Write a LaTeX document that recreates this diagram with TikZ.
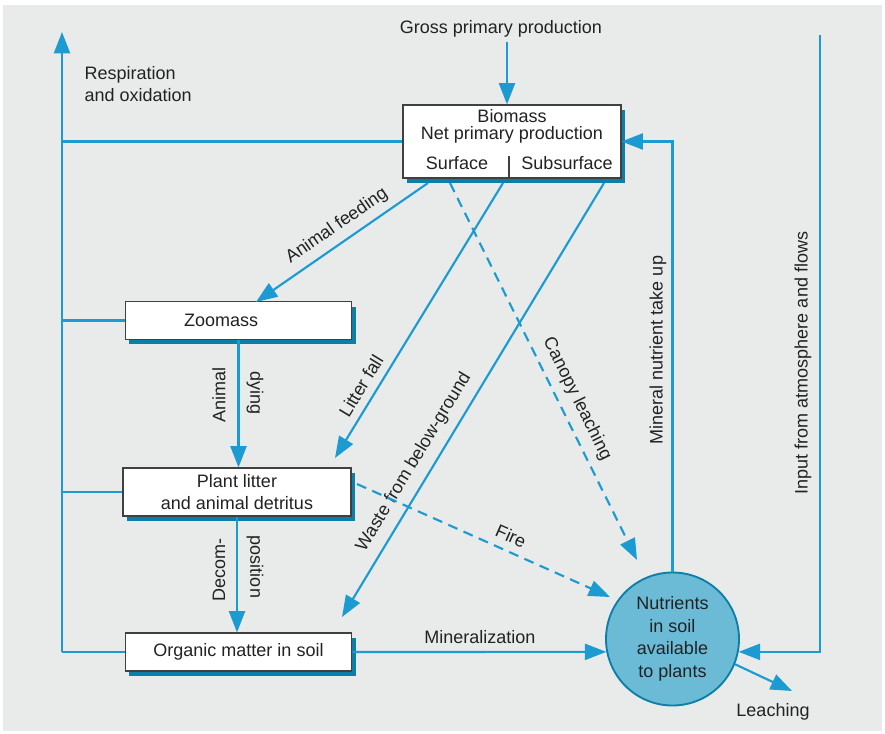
\documentclass[tikz,border=0pt]{standalone}
\usepackage{fontspec}
\setmainfont{Liberation Sans}
\usetikzlibrary{arrows.meta,shadows}
\definecolor{flowblue}{HTML}{1B9BD1}
\definecolor{shadeblue}{HTML}{0B7FA8}
\definecolor{bggray}{HTML}{E9EBEB}
\definecolor{poolblue}{HTML}{6BBBD7}
\definecolor{inkgray}{HTML}{222222}
\begin{document}
\begin{tikzpicture}[x=0.75pt,y=-0.75pt,
    font=\fontsize{13.5}{16.5}\selectfont, text=inkgray,
    >={Triangle[length=16pt,width=12pt]},
    pool/.style={draw=black!75, line width=0.8pt, fill=white, inner sep=2pt,
      drop shadow={shadow xshift=3pt, shadow yshift=-3.5pt, fill=shadeblue, opacity=1}},
    flow/.style={flowblue, line width=1.6pt},
    dflow/.style={flow, dash pattern=on 7.5pt off 5pt}]
    \useasboundingbox (0,0) rectangle (885,734);%
    \fill[bggray] (3,5) rectangle (882,731);%

    \node[pool, minimum width=163.5pt, minimum height=54.75pt] (bio) at (512,141.5) {};%
    \node[anchor=base, inner sep=1pt] (bioname) at (512,123) {Biomass};%
    \node[anchor=base, inner sep=1pt] (npp) at (512,140) {Net primary production};%
    \node[anchor=base] (surf) at (457,170) {Surface};%
    \node[anchor=base] (subsurf) at (567,170) {Subsurface};%
    \coordinate (divtop) at (509,156);%
    \draw[black!75, line width=0.8pt] (divtop) -- (divtop |- bio.south);%

    \node[pool, minimum width=170pt, minimum height=28pt] (zoo) at (238.5,320.5) {Zoomass\hspace*{26pt}};%
    \node[pool, minimum width=171pt, minimum height=36pt, align=center] (litter) at (237,492) {Plant litter\\and animal detritus};%
    \node[pool, minimum width=170pt, minimum height=28.5pt] (som) at (238.5,652) {Organic matter in soil};%
    \node[circle, draw=shadeblue, line width=1.4pt, fill=poolblue, minimum size=99.75pt,
      inner sep=0pt, align=center, font=\fontsize{13.5}{17}\selectfont] (nut) at (672.5,639) {Nutrients\\in soil\\available\\to plants};%

    \coordinate (resptop) at (62,32);%
    \coordinate (respfoot) at (62,652);%
    \draw[flow,->] (respfoot) -- (resptop);%
    \draw[flow] (bio.west) -- (bio.west -| resptop);%
    \draw[flow] (zoo.west) -- (zoo.west -| resptop);%
    \draw[flow] (litter.west) -- (litter.west -| resptop);%
    \draw[flow] (som.west) -- (som.west -| resptop);%
    \node[align=left, anchor=west] (resptext) at (80,84) {Respiration\\and oxidation};%

    \node (gpp) at (501,29) {Gross primary production};%
    \coordinate (gppfoot) at (507,42);%
    \draw[flow,->] (gppfoot) -- (gppfoot |- bio.north);%

    \coordinate (inputtop) at (820,35);%
    \draw[flow,->] (inputtop) |- (nut.-11);%
    \node[rotate=90] (inputtext) at (803,363) {Input from atmosphere and flows};%
    \draw[flow,->] (nut.north) |- (bio.east);%
    \node[rotate=90] (uptake) at (658,350) {Mineral nutrient take up};%

    \coordinate (leachend) at (792,691);%
    \draw[flow,->] (nut.-22) -- (leachend);%
    \node (leachtext) at (773,712) {Leaching};%
    \draw[flow,->] (som.east) -- (nut.191);%
    \node (mintext) at (480,637) {Mineralization};%

    \draw[flow,->] (zoo.south) -- (zoo.south |- litter.north);%
    \node[rotate=90] (dyinga) at (219,395) {Animal};%
    \node[rotate=-90] (dyingb) at (255,393) {dying};%
    \draw[flow,->] (litter.south) -- (litter.south |- som.north);%
    \node[rotate=90] (decoma) at (219,570) {Decom-};%
    \node[rotate=-90] (decomb) at (255,567) {position};%

    \coordinate (feedstart) at (428,183);%
    \coordinate (feedend) at (256,302);%
    \coordinate (fallstart) at (503,183);%
    \coordinate (fallend) at (335,458);%
    \coordinate (wastestart) at (604,183);%
    \coordinate (wasteend) at (342,617);%
    \coordinate (canopystart) at (450,183);%
    \coordinate (canopyend) at (637,560);%
    \coordinate (firestart) at (357,484);%
    \coordinate (fireend) at (610,597);%

    \draw[flow,->] (feedstart) -- (feedend);%
    \node[rotate=34.7] (feedtext) at (337,226) {Animal feeding};%
    \draw[flow,->] (fallstart) -- (fallend);%
    \node[rotate=58.6] (falltext) at (361,386) {Litter fall};%
    \draw[flow,->] (wastestart) -- (wasteend);%
    \node[rotate=58.9] (wastetext) at (414,462) {Waste from below-ground};%
    \draw[dflow,->] (canopystart) -- (canopyend);%
    \node[rotate=-63.7] (canopytext) at (577,399) {Canopy leaching};%
    \draw[dflow,->] (firestart) -- (fireend);%
    \node[rotate=-23.7] (firetext) at (511,536) {Fire};%
  \end{tikzpicture}
\end{document}
